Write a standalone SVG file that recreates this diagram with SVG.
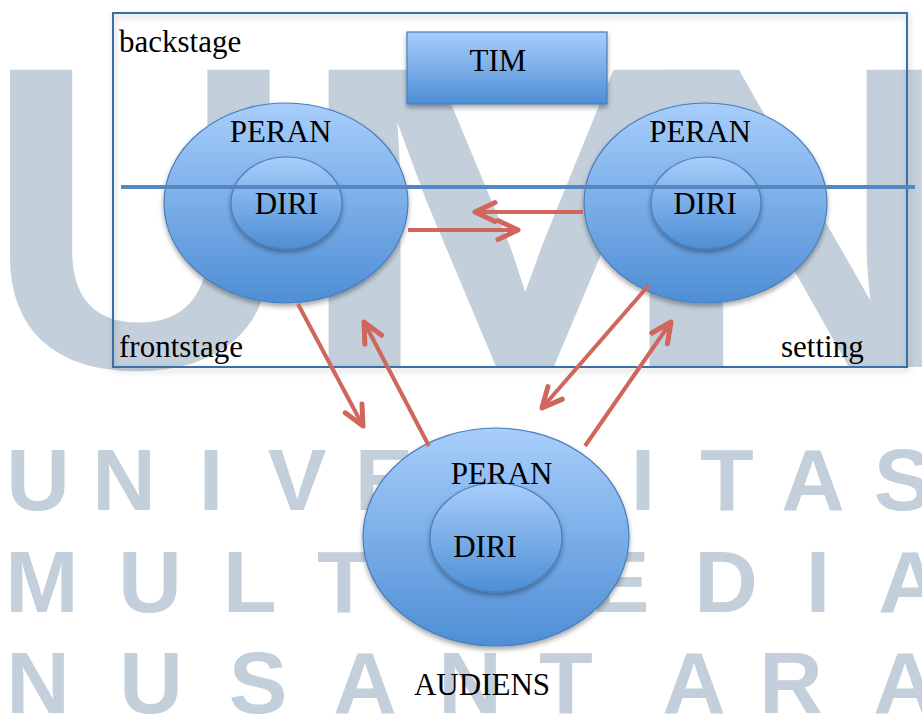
<svg xmlns="http://www.w3.org/2000/svg" width="922" height="716" viewBox="0 0 922 716" font-family="'Liberation Serif', Tinos, 'Nimbus Roman', 'Nimbus Roman No9 L', FreeSerif, 'Noto Serif', 'DejaVu Serif', 'Times New Roman', Times, serif">
  <style>
    .wm { font-family: 'Liberation Sans', Arial, sans-serif; font-weight: bold; fill: #c3cfdb; }
    .lbl { font-size: 31px; fill: #000; }
    .mid { text-anchor: middle; }
    .outer { fill: url(#gBlue); stroke: #4a7ebb; stroke-width: 1.2; filter: url(#shadow); }
    .inner { fill: url(#gBlue); stroke: #4a7ebb; stroke-width: 1.2; filter: url(#shadow); }
    .conn { fill: none; stroke: #d0665c; stroke-width: 4; marker-end: url(#chev); }
  </style>
  <defs>
    <linearGradient id="gBlue" x1="0" y1="0" x2="0" y2="1">
      <stop offset="0" stop-color="#a8cefb"/>
      <stop offset="1" stop-color="#4e8ed5"/>
    </linearGradient>
    <filter id="shadow" x="-20%" y="-20%" width="140%" height="140%">
      <feDropShadow dx="0" dy="3" stdDeviation="2.5" flood-color="#000" flood-opacity="0.35"/>
    </filter>
    <filter id="boxShadow" x="-5%" y="-5%" width="110%" height="115%">
      <feDropShadow dx="1" dy="3" stdDeviation="3" flood-color="#000" flood-opacity="0.25"/>
    </filter>
    <marker id="chev" markerUnits="userSpaceOnUse" viewBox="0 0 40 40" markerWidth="40" markerHeight="40" refX="30" refY="20" orient="auto" overflow="visible">
      <path d="M 10 10.5 L 30 20 L 10 29.5" fill="none" stroke="#d0665c" stroke-width="5" stroke-linecap="round" stroke-linejoin="round"/>
    </marker>
  </defs>

  <rect width="922" height="716" fill="#ffffff"/>

  <!-- watermark -->
  <g id="watermark">
    <text class="wm mid" x="140" y="367" font-size="432">U</text>
    <text class="wm mid" font-size="432" transform="translate(525,367) scale(1.3,1)" x="0" y="0">M</text>
    <text class="wm mid" x="795" y="367" font-size="432">N</text>
    <text class="wm mid" font-size="88" y="510" x="38 124 211 297 384 470 557 643 727 813 903">UNIVERSITAS</text>
    <text class="wm mid" font-size="88" y="612" x="42 150 250 344 432 524 620 726 818 910">MULTIMEDIA</text>
    <text class="wm mid" font-size="88" y="713" x="38 151 258 365 470 566 694 791 905">NUSANTARA</text>
  </g>

  <!-- stage frame -->
  <g id="stage">
    <rect x="113" y="13" width="794" height="354" fill="none" stroke="#3b6ea5" stroke-width="2" filter="url(#boxShadow)"/>
    <text class="lbl" x="119" y="52">backstage</text>
    <text class="lbl" x="119" y="357">frontstage</text>
    <text class="lbl" x="781" y="357">setting</text>
  </g>

  <g id="tim">
    <rect x="407" y="32" width="200" height="72" fill="url(#gBlue)" stroke="#4a7ebb" stroke-width="1.2" filter="url(#shadow)"/>
    <text class="lbl mid" x="498" y="71">TIM</text>
  </g>

  <g id="left-actor">
    <ellipse class="outer" cx="286" cy="203" rx="122" ry="100"/>
    <ellipse class="inner" cx="286.5" cy="203" rx="55.5" ry="46"/>
    <text class="lbl mid" x="280.5" y="142">PERAN</text>
    <text class="lbl mid" x="286.5" y="214">DIRI</text>
  </g>

  <g id="right-actor">
    <ellipse class="outer" cx="705.5" cy="203" rx="121.5" ry="100"/>
    <ellipse class="inner" cx="706" cy="203" rx="55" ry="46"/>
    <text class="lbl mid" x="700" y="142">PERAN</text>
    <text class="lbl mid" x="705" y="214">DIRI</text>
  </g>

  <g id="audience">
    <ellipse class="outer" cx="496" cy="537" rx="133" ry="109"/>
    <ellipse class="inner" cx="496" cy="537.5" rx="66" ry="54.5"/>
    <text class="lbl mid" x="501.5" y="484">PERAN</text>
    <text class="lbl mid" x="485" y="557">DIRI</text>
    <text class="lbl mid" x="482" y="695">AUDIENS</text>
  </g>

  <!-- front/back divider -->
  <line id="divider" x1="121" y1="187" x2="915" y2="187" stroke="#5588c2" stroke-width="4"/>

  <g id="connectors">
    <line class="conn" x1="408" y1="230" x2="518" y2="230"/>
    <line class="conn" x1="583" y1="212" x2="475" y2="212"/>
    <line class="conn" x1="298" y1="304" x2="363" y2="426"/>
    <line class="conn" x1="429" y1="446" x2="364" y2="322"/>
    <line class="conn" x1="649" y1="285" x2="542" y2="408"/>
    <line class="conn" x1="585" y1="446" x2="671" y2="322"/>
  </g>
</svg>
